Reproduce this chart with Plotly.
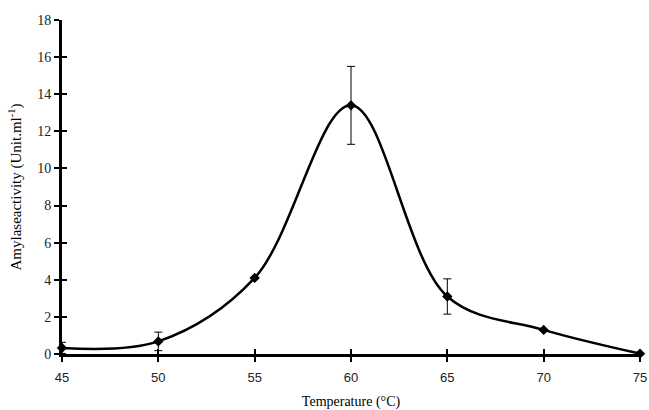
import plotly.graph_objects as go

temperature = [45, 50, 55, 60, 65, 70, 75]
activity = [0.33, 0.68, 4.1, 13.4, 3.1, 1.3, 0.02]
error = [0.3, 0.5, 0, 2.1, 0.95, 0, 0]

x_ticks = [45, 50, 55, 60, 65, 70, 75]
y_ticks = [0, 2, 4, 6, 8, 10, 12, 14, 16, 18]

fig = go.Figure()
fig.add_trace(go.Scatter(
    x=temperature, y=activity,
    mode="lines+markers",
    line=dict(color="black", width=2.5, shape="spline", smoothing=1.0),
    marker=dict(symbol="diamond", size=8, color="black"),
    error_y=dict(type="data", array=error, visible=True, color="black", thickness=1, width=4),
    cliponaxis=False,
    showlegend=False,
))

serif = "Liberation Serif, Times New Roman, serif"
sans = "Liberation Sans, Arial, sans-serif"

fig.update_layout(
    width=649, height=410,
    margin=dict(l=62, r=9, t=20, b=56, autoexpand=False),
    paper_bgcolor="white", plot_bgcolor="white",
    xaxis=dict(
        range=[45, 75], tickvals=x_ticks, ticktext=[str(v) for v in x_ticks],
        showgrid=False, zeroline=False, showline=True, linecolor="black", linewidth=3,
        ticks="outside", ticklen=5, tickwidth=2, tickcolor="black",
        tickfont=dict(family=sans, size=13, color="#222"),
        ticklabeloverflow="allow", automargin=False, ticklabelstandoff=4,
        title=dict(text="Temperature (°C)", font=dict(family=serif, size=14, color="black"), standoff=14),
    ),
    yaxis=dict(
        range=[0, 18], tickvals=y_ticks, ticktext=[str(v) for v in y_ticks],
        showgrid=False, zeroline=False, showline=True, linecolor="black", linewidth=3,
        ticks="outside", ticklen=5, tickwidth=2, tickcolor="black",
        tickfont=dict(family=serif, size=14, color="#222"),
        ticklabeloverflow="allow", automargin=False,
        title=dict(text="Amylaseactivity (Unit.ml<sup>-1</sup>)", font=dict(family=serif, size=15, color="black"), standoff=12),
    ),
    xaxis2=dict(
        overlaying="x", range=[45, 75], tickvals=x_ticks, showticklabels=False,
        showgrid=False, zeroline=False, showline=False, automargin=False,
        ticks="inside", ticklen=5, tickwidth=2, tickcolor="black", side="bottom",
    ),
    yaxis2=dict(
        overlaying="y", range=[0, 18], tickvals=y_ticks, showticklabels=False,
        showgrid=False, zeroline=False, showline=False, automargin=False,
        ticks="inside", ticklen=5, tickwidth=2, tickcolor="black", side="left",
    ),
)
fig.add_trace(go.Scatter(x=[45], y=[0], xaxis="x2", yaxis="y2", mode="markers",
                         marker=dict(opacity=0), showlegend=False, hoverinfo="skip"))

fig.write_html("out.html", config={"displayModeBar": False},
               post_script="document.body.style.margin='0px';document.body.style.padding='0px';")
